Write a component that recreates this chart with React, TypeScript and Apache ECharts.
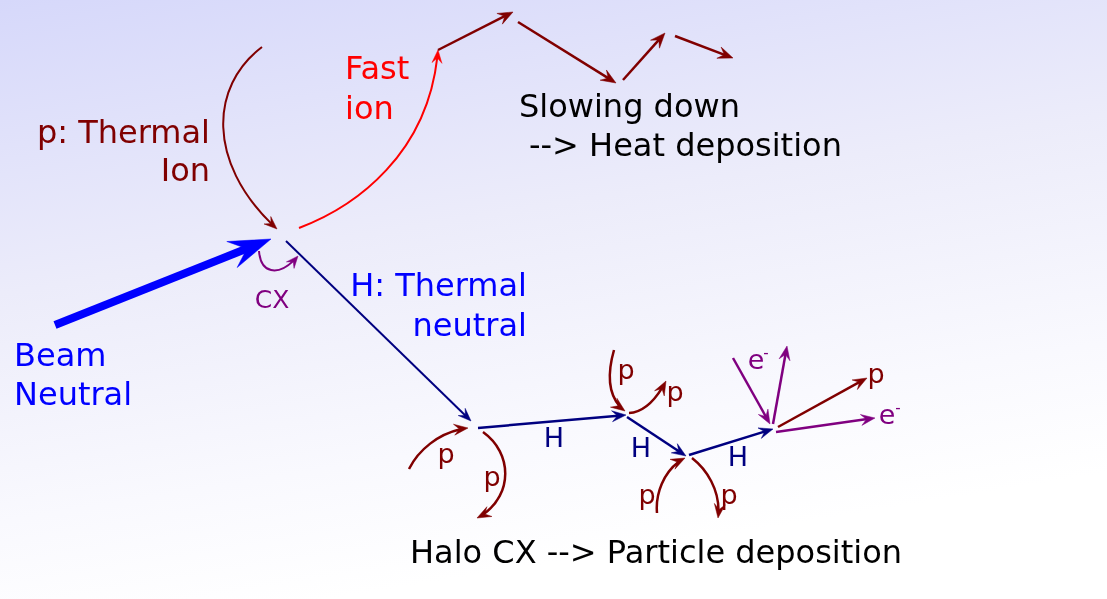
import React, { useEffect, useRef } from "react";
import * as echarts from "echarts";

const WIDTH = 1107;
const HEIGHT = 599;

// Paths in picture units: cubic [x0,y0,c1x,c1y,c2x,c2y,x3,y3] or straight [x0,y0,x1,y1]
const thermalIonPaths = [[262, 47, 208, 88, 208, 166, 277, 229]];
const fastIonPaths = [[299, 228, 360, 205, 430, 150, 438, 50]];
const slowingDownPaths = [
  [438, 50, 513, 12],
  [518, 22, 616, 83],
  [623, 80, 665, 33],
  [675, 36, 733, 58],
];
const beamNeutralPaths = [[55, 325, 271, 239]];
const cxPaths = [[259, 251, 261, 276, 281, 276, 298, 256]];
const thermalNeutralPaths = [[286, 241, 471, 421]];
const haloHydrogenPaths = [
  [478, 428, 626, 415],
  [627, 417, 686, 456],
  [689, 455, 773, 429],
];
const haloProtonPaths = [
  [409, 469, 420, 447, 443, 431, 468, 428],
  [483, 432, 515, 455, 512, 500, 477, 518],
  [614, 350, 606, 378, 610, 400, 625, 411],
  [629, 413, 646, 412, 658, 396, 666, 381],
  [657, 513, 655, 490, 667, 467, 685, 458],
  [692, 458, 710, 472, 721, 495, 718, 518],
  [778, 427, 867, 378],
];
const haloElectronPaths = [
  [733, 358, 770, 424],
  [773, 424, 787, 346],
  [776, 432, 875, 418],
];

// Labels: [x, baseline y, text]
const darkRedBigLabels: [number, number, string][] = [
  [210, 142, "p: Thermal"],
  [210, 180, "Ion"],
];
const redBigLabels: [number, number, string][] = [
  [345, 78, "Fast"],
  [345, 118, "ion"],
];
const blackBigLabels: [number, number, string][] = [
  [519, 116, "Slowing down"],
  [529, 155, "--> Heat deposition"],
  [410, 562, "Halo CX --> Particle deposition"],
];
const blueRightLabels: [number, number, string][] = [
  [527, 295, "H: Thermal"],
  [527, 335, "neutral"],
];
const blueLeftLabels: [number, number, string][] = [
  [14, 365, "Beam"],
  [14, 404, "Neutral"],
];
const purpleCxLabels: [number, number, string][] = [[272, 307, "CX"]];
const purpleSmallLabels: [number, number, string][] = [
  [756, 368, "e"],
  [887, 423, "e"],
];
const purpleSuperscripts: [number, number, string][] = [
  [766, 357, "-"],
  [898, 412, "-"],
];
const navySmallLabels: [number, number, string][] = [
  [554, 446, "H"],
  [641, 456, "H"],
  [738, 465, "H"],
];
const darkRedSmallLabels: [number, number, string][] = [
  [446, 462, "p"],
  [492, 485, "p"],
  [626, 378, "p"],
  [675, 400, "p"],
  [647, 503, "p"],
  [729, 503, "p"],
  [876, 382, "p"],
];

const FONT = '"DejaVu Sans", "Noto Sans", sans-serif';

function splitCubic(p: number[][], t: number) {
  const lerp = (a: number[], b: number[], s: number) => [a[0] + (b[0] - a[0]) * s, a[1] + (b[1] - a[1]) * s];
  const p01 = lerp(p[0], p[1], t);
  const p12 = lerp(p[1], p[2], t);
  const p23 = lerp(p[2], p[3], t);
  const p012 = lerp(p01, p12, t);
  const p123 = lerp(p12, p23, t);
  const p0123 = lerp(p012, p123, t);
  return [p[0], p01, p012, p0123];
}

function pathSeries(paths: number[][], color: string, lineWidth: number, headLen: number, headHalf: number) {
  return {
    type: "custom",
    coordinateSystem: "cartesian2d",
    silent: true,
    z: 5,
    data: paths.map((p) => [p[0], p[1]]),
    renderItem: (params: any, api: any) => {
      const raw = paths[params.dataIndex];
      const pts: number[][] = [];
      for (let k = 0; k < raw.length; k += 2) pts.push(api.coord([raw[k], raw[k + 1]]));
      const tip = pts[pts.length - 1];
      const prev = pts[pts.length - 2];
      let dx = tip[0] - prev[0];
      let dy = tip[1] - prev[1];
      const len = Math.hypot(dx, dy) || 1;
      dx /= len;
      dy /= len;
      const back = [tip[0] - dx * headLen, tip[1] - dy * headLen];
      const notch = [tip[0] - dx * headLen * 0.62, tip[1] - dy * headLen * 0.62];
      const left = [back[0] - dy * headHalf, back[1] + dx * headHalf];
      const right = [back[0] + dy * headHalf, back[1] - dx * headHalf];
      const shorten = headLen * 0.55;
      let lineEl: any;
      if (pts.length === 2) {
        const end = [tip[0] - dx * shorten, tip[1] - dy * shorten];
        lineEl = {
          type: "line",
          shape: { x1: pts[0][0], y1: pts[0][1], x2: end[0], y2: end[1] },
          style: { stroke: color, lineWidth, fill: "none" },
        };
      } else {
        const t = Math.max(0.5, 1 - shorten / (3 * len));
        const s = splitCubic(pts, t);
        lineEl = {
          type: "bezierCurve",
          shape: {
            x1: s[0][0], y1: s[0][1],
            cpx1: s[1][0], cpy1: s[1][1],
            cpx2: s[2][0], cpy2: s[2][1],
            x2: s[3][0], y2: s[3][1],
          },
          style: { stroke: color, lineWidth, fill: "none" },
        };
      }
      return {
        type: "group",
        children: [
          lineEl,
          {
            type: "polygon",
            shape: { points: [tip, left, notch, right] },
            style: { fill: color, stroke: color, lineWidth: 0.5, lineJoin: "miter" },
          },
        ],
      };
    },
  };
}

function textSeries(items: [number, number, string][], color: string, fontSize: number, align: string) {
  return {
    type: "custom",
    coordinateSystem: "cartesian2d",
    silent: true,
    z: 6,
    data: items.map((t) => [t[0], t[1]]),
    renderItem: (params: any, api: any) => {
      const it = items[params.dataIndex];
      const c = api.coord([it[0], it[1]]);
      return {
        type: "text",
        x: c[0],
        y: c[1] - fontSize * 0.3,
        style: {
          text: it[2],
          fill: color,
          font: `${fontSize}px ${FONT}`,
          align,
          verticalAlign: "middle",
        },
      };
    },
  };
}

export default function App() {
  const ref = useRef<HTMLDivElement>(null);
  useEffect(() => {
    if (!ref.current) return;
    const chart = echarts.init(ref.current, null, { renderer: "svg" });
    const DARK_RED = "#800000";
    const RED = "#ff0000";
    const BLUE = "#0000ff";
    const NAVY = "#000080";
    const PURPLE = "#800080";
    chart.setOption({
      animation: false,
      graphic: [
        {
          type: "rect",
          z: -10,
          silent: true,
          shape: { x: 0, y: 0, width: WIDTH, height: HEIGHT },
          style: {
            fill: new echarts.graphic.LinearGradient(0, 0, 0.3, 1, [
              { offset: 0, color: "#d6d8fa" },
              { offset: 0.45, color: "#ececfa" },
              { offset: 0.8, color: "#f9f9fe" },
              { offset: 1, color: "#ffffff" },
            ]),
          },
        },
      ],
      grid: { left: 0, right: 0, top: 0, bottom: 0, containLabel: false },
      xAxis: { type: "value", min: 0, max: WIDTH, show: false },
      yAxis: { type: "value", min: 0, max: HEIGHT, inverse: true, show: false },
      series: [
        pathSeries(thermalIonPaths, DARK_RED, 2, 13, 5),
        pathSeries(fastIonPaths, RED, 2, 13, 5),
        pathSeries(slowingDownPaths, DARK_RED, 2.5, 15, 6),
        pathSeries(beamNeutralPaths, BLUE, 8, 42, 14),
        pathSeries(cxPaths, PURPLE, 2, 12, 5),
        pathSeries(thermalNeutralPaths, NAVY, 2, 13, 5),
        pathSeries(haloHydrogenPaths, NAVY, 2.5, 14, 5.5),
        pathSeries(haloProtonPaths, DARK_RED, 2.5, 14, 5.5),
        pathSeries(haloElectronPaths, PURPLE, 2.5, 14, 5.5),
        textSeries(darkRedBigLabels, DARK_RED, 32, "right"),
        textSeries(redBigLabels, RED, 32, "left"),
        textSeries(blackBigLabels, "#000000", 32, "left"),
        textSeries(blueRightLabels, BLUE, 32, "right"),
        textSeries(blueLeftLabels, BLUE, 32, "left"),
        textSeries(purpleCxLabels, PURPLE, 25, "center"),
        textSeries(purpleSmallLabels, PURPLE, 27, "center"),
        textSeries(purpleSuperscripts, PURPLE, 15, "center"),
        textSeries(navySmallLabels, NAVY, 27, "center"),
        textSeries(darkRedSmallLabels, DARK_RED, 27, "center"),
      ],
    });
    return () => chart.dispose();
  }, []);
  return (
    <div
      ref={ref}
      style={{ position: "fixed", left: 0, top: 0, width: WIDTH, height: HEIGHT }}
    />
  );
}
